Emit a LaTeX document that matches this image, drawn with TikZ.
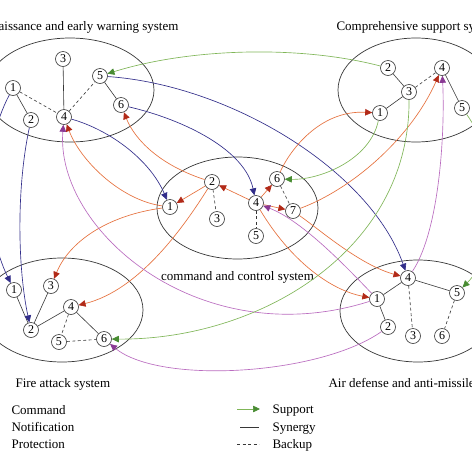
\documentclass[tikz,border=0pt]{standalone}
\usepackage{fontspec}
\setmainfont{Liberation Serif}
\usetikzlibrary{arrows.meta}
\definecolor{cmdblue}{RGB}{50,46,138}
\definecolor{notorange}{RGB}{230,112,60}
\definecolor{notred}{RGB}{178,42,24}
\definecolor{propurple}{RGB}{186,108,192}
\definecolor{propurpledark}{RGB}{138,58,148}
\definecolor{supgreen}{RGB}{128,182,88}
\definecolor{supgreendark}{RGB}{72,140,50}
\definecolor{edgegray}{RGB}{55,55,55}
\begin{document}
\begin{tikzpicture}[x=1pt, y=-1pt,
  every node/.style={font=\fontsize{13}{15}\selectfont},
  unit/.style={circle, draw=edgegray, fill=white, minimum size=15pt, inner sep=0pt, line width=0.6pt, font=\fontsize{12}{12}\selectfont},
  system/.style={draw=edgegray, line width=0.7pt},
  synergy/.style={draw=edgegray, line width=0.6pt},
  backup/.style={draw=edgegray, line width=0.6pt, dash pattern=on 3pt off 2.5pt},
  command/.style={cmdblue, line width=0.65pt, -{Triangle[length=7pt,width=6.5pt]}},
  notify/.style={notorange, line width=0.65pt, -{Triangle[length=7pt,width=6.5pt,color=notred]}},
  protect/.style={propurple, line width=0.65pt, -{Triangle[length=7pt,width=6.5pt,color=propurpledark]}},
  support/.style={supgreen, line width=0.65pt, -{Triangle[length=7pt,width=6.5pt,color=supgreendark]}}
]
\useasboundingbox (0,0) rectangle (472,472);
\fill[white] (0,0) rectangle (472,472);
\clip (0,0) rectangle (472,472);

\draw[system] (70,90) ellipse (84pt and 52pt);
\draw[system] (416,90) ellipse (78pt and 52pt);
\draw[system] (237.5,208) ellipse (80.5pt and 51pt);
\draw[system] (62,310) ellipse (81pt and 52pt);
\draw[system] (418,311) ellipse (78pt and 51pt);

\node[anchor=base east] (recontitle) at (182,30) {Reconnaissance and early warning system};
\node[anchor=base west] (supporttitle) at (333,30) {Comprehensive support system};
\node[anchor=base] (commandtitle) at (237.5,280) {command and control system};
\node[anchor=base west] (firetitle) at (12,387) {Fire attack system};
\node[anchor=base west] (airtitle) at (325,387) {Air defense and anti-missile system};

\node[unit] (r1) at (13,88) {1};
\node[unit] (r2) at (31,120) {2};
\node[unit] (r3) at (63,59) {3};
\node[unit] (r4) at (64,117) {4};
\node[unit] (r5) at (100,76) {5};
\node[unit] (r6) at (121,105) {6};

\node[unit] (s1) at (380,113) {1};
\node[unit] (s2) at (388,68) {2};
\node[unit] (s3) at (409,92) {3};
\node[unit] (s4) at (442,68) {4};
\node[unit] (s5) at (462,108) {5};

\node[unit] (c1) at (170,207) {1};
\node[unit] (c2) at (212,182) {2};
\node[unit] (c3) at (217,219) {3};
\node[unit] (c4) at (256,203) {4};
\node[unit] (c5) at (256,236) {5};
\node[unit] (c6) at (277,179) {6};
\node[unit] (c7) at (293,211) {7};

\node[unit] (f1) at (14,290) {1};
\node[unit] (f2) at (31,330) {2};
\node[unit] (f3) at (51,286) {3};
\node[unit] (f4) at (71,307) {4};
\node[unit] (f5) at (59,342) {5};
\node[unit] (f6) at (104,339) {6};

\node[unit] (a1) at (377,299) {1};
\node[unit] (a2) at (388,327) {2};
\node[unit] (a3) at (413,336) {3};
\node[unit] (a4) at (408,278) {4};
\node[unit] (a5) at (457,293) {5};
\node[unit] (a6) at (442,336) {6};

\draw[synergy] (r1) -- (r2);
\draw[backup] (r1) -- (r4);
\draw[synergy] (r3) -- (r4);
\draw[backup] (r4) -- (r5);
\draw[synergy] (r5) -- (r6);
\draw[synergy] (s2) -- (s3);
\draw[synergy] (s3) -- (s1);
\draw[backup] (s3) -- (s4);
\draw[synergy] (s4) -- (s5);
\draw[backup] (c2) -- (c3);
\draw[backup] (c4) -- (c5);
\draw[backup] (c6) -- (c7);
\draw[synergy] (f1) -- (f2);
\draw[synergy] (f2) -- (f3);
\draw[synergy] (f2) -- (f4);
\draw[synergy] (f4) -- (f6);
\draw[backup] (f4) -- (f5);
\draw[backup] (f5) -- (f6);
\draw[synergy] (a4) -- (a1);
\draw[synergy] (a4) -- (a5);
\draw[synergy] (a1) -- (a2);
\draw[backup] (a4) -- (a3);
\draw[backup] (a5) -- (a6);

\draw[command] (r5) .. controls (230,85) and (370,170) .. (a4);
\draw[command] (r6) .. controls (185,120) and (245,150) .. (c4);
\draw[command] (r4) .. controls (110,130) and (150,160) .. (c1);
\draw[command] (r1) .. controls (-20,150) and (-15,230) .. (f1);
\draw[command] (r2) .. controls (16,190) and (18,270) .. (f2);

\draw[notify] (c1) .. controls (120,200) and (80,160) .. (r4);
\draw[notify] (c2) .. controls (160,165) and (135,140) .. (r6);
\draw[notify] (c1) .. controls (110,215) and (70,240) .. (f3);
\draw[notify] (c2) .. controls (185,225) and (140,290) .. (f4);
\draw[notify] (c6) .. controls (290,150) and (320,110) .. (s1);
\draw[notify] (c7) .. controls (350,190) and (410,140) .. (s4);
\draw[notify] (c7) .. controls (320,230) and (360,265) .. (a4);
\draw[notify] (c4) .. controls (290,260) and (330,290) .. (a1);
\draw[notify] (c2) -- (c1);
\draw[notify] (c4) -- (c2);
\draw[notify] (c4) -- (c6);
\draw[notify] (c4) -- (c7);

\draw[protect] (a1) .. controls (200,355) and (55,230) .. (r4);
\draw[protect] (a2) .. controls (320,375) and (160,385) .. (f6);
\draw[protect] (a4) .. controls (440,230) and (445,130) .. (s4);
\draw[protect] (a1) .. controls (340,260) and (300,220) .. (c4);

\draw[support] (s2) .. controls (300,45) and (190,48) .. (r5);
\draw[support] (s1) .. controls (370,160) and (320,180) .. (c6);
\draw[support] (s3) .. controls (410,250) and (260,340) .. (f6);
\draw[support] (s5) .. controls (500,160) and (500,250) .. (a5);

\node[anchor=base west] (lcommand) at (8,414) {Command};
\node[anchor=base west] (lnotify) at (8,431) {Notification};
\node[anchor=base west] (lprotect) at (8,448) {Protection};

\coordinate (supporta) at (237,409);
\coordinate (supportb) at (260,409);
\coordinate (synergya) at (240,427);
\coordinate (synergyb) at (259,427);
\coordinate (backupa) at (237,444);
\coordinate (backupb) at (259,444);
\draw[support] (supporta) -- (supportb);
\draw[synergy] (synergya) -- (synergyb);
\draw[backup] (backupa) -- (backupb);
\node[anchor=base west] (lsupport) at (269,413) {Support};
\node[anchor=base west] (lsynergy) at (269,431) {Synergy};
\node[anchor=base west] (lbackup) at (269,448) {Backup};
\end{tikzpicture}
\end{document}
